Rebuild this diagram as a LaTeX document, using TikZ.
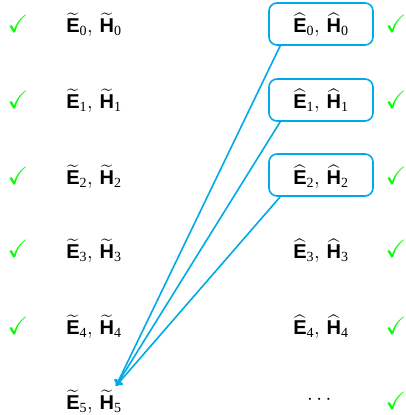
\documentclass[tikz,border=0pt]{standalone}
\usepackage{amsmath,amssymb}
\usepackage{fontspec}
\setmainfont{Liberation Serif}
\setsansfont{Liberation Sans}
\definecolor{linkblue}{RGB}{0,170,232}
\newcommand{\tE}[1]{$\widetilde{\textsf{\textbf{E}}}_{\text{#1}},\,\widetilde{\textsf{\textbf{H}}}_{\text{#1}}$}
\newcommand{\hE}[1]{$\widehat{\textsf{\textbf{E}}}_{\text{#1}},\,\widehat{\textsf{\textbf{H}}}_{\text{#1}}$}
\tikzset{
  lbl/.style={font=\fontsize{20}{24}\selectfont, inner sep=0pt},
  ok/.style={text=green, font=\fontsize{25}{30}\selectfont, inner sep=0pt},
  hbox/.style={draw=linkblue, line width=1.6pt, rounded corners=8pt, minimum width=104pt, minimum height=42pt, inner sep=0pt},
  conn/.style={draw=linkblue, line width=1.6pt, -{To[length=6pt,width=9pt]}}
}
\usetikzlibrary{arrows.meta}
\begin{document}
\begin{tikzpicture}[x=1pt,y=-1pt]
\useasboundingbox (0,0) rectangle (406,415);
% left column
\node[ok] (cl0) at (18,24) {$\checkmark$};
\node[ok] (cl1) at (18,100) {$\checkmark$};
\node[ok] (cl2) at (18,176) {$\checkmark$};
\node[ok] (cl3) at (18,249) {$\checkmark$};
\node[ok] (cl4) at (18,326) {$\checkmark$};
\node[lbl] (l0) at (94,25) {\tE{0}};
\node[lbl] (l1) at (94,101) {\tE{1}};
\node[lbl] (l2) at (94,177) {\tE{2}};
\node[lbl] (l3) at (94,251) {\tE{3}};
\node[lbl] (l4) at (94,327) {\tE{4}};
\node[lbl] (l5) at (94,402) {\tE{5}};
% right column
\node[hbox] (b0) at (321,24) {};
\node[hbox] (b1) at (321,100) {};
\node[hbox] (b2) at (321,175) {};
\node[lbl] (r0) at (321,25) {\hE{0}};
\node[lbl] (r1) at (321,101) {\hE{1}};
\node[lbl] (r2) at (321,177) {\hE{2}};
\node[lbl] (r3) at (321,251) {\hE{3}};
\node[lbl] (r4) at (321,327) {\hE{4}};
\node[lbl] (r5) at (321,400) {$\cdots$};
\node[ok] (cr0) at (396,24) {$\checkmark$};
\node[ok] (cr1) at (396,100) {$\checkmark$};
\node[ok] (cr2) at (396,176) {$\checkmark$};
\node[ok] (cr3) at (396,249) {$\checkmark$};
\node[ok] (cr4) at (396,326) {$\checkmark$};
\node[ok] (cr5) at (396,401) {$\checkmark$};
% connectors
\coordinate (t5) at (116,386);
\coordinate (s0) at ([xshift=12pt]b0.south west);
\coordinate (s1) at ([xshift=12pt]b1.south west);
\coordinate (s2) at ([xshift=12pt]b2.south west);
\draw[conn] (s0) -- (t5);
\draw[conn] (s1) -- (t5);
\draw[conn] (s2) -- (t5);
\end{tikzpicture}
\end{document}
